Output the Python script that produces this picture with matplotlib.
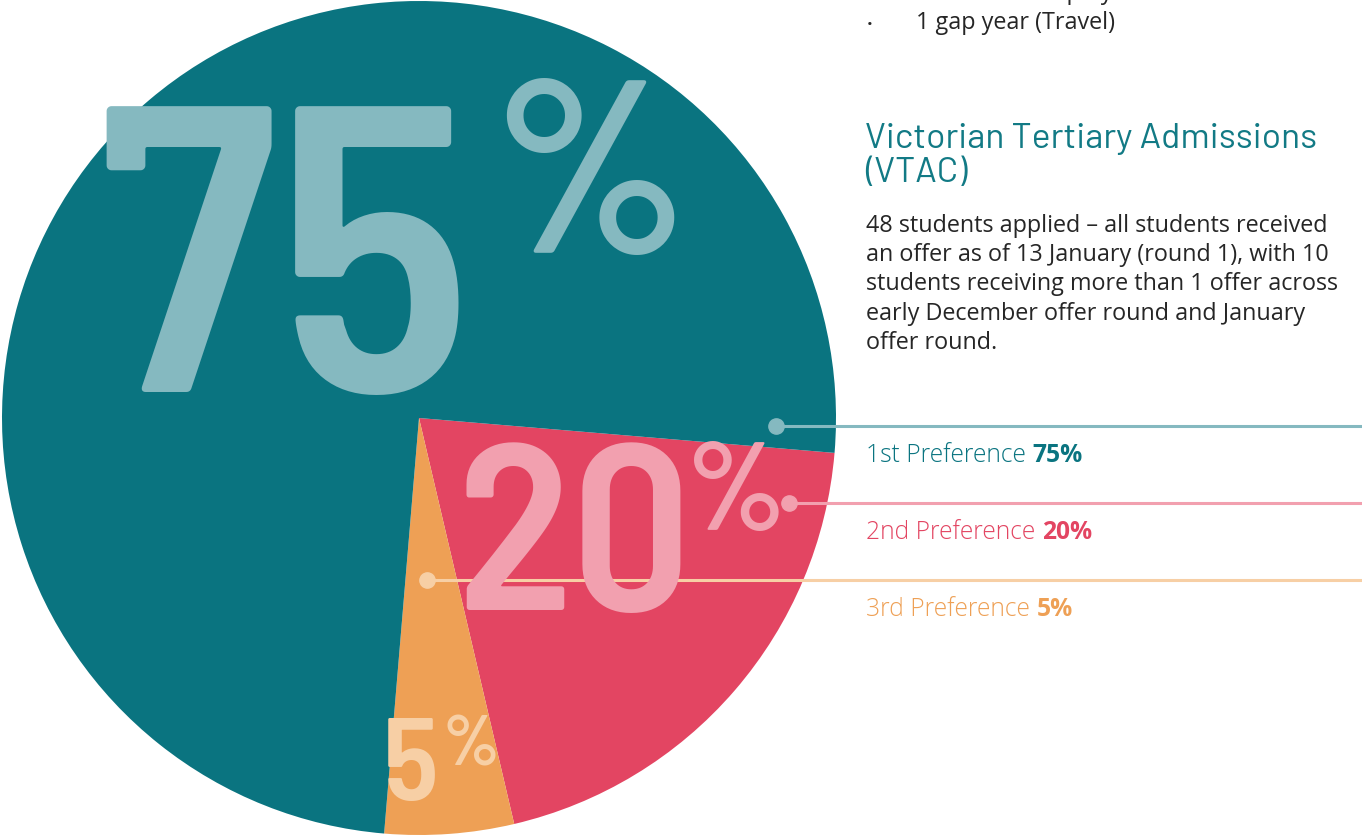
import matplotlib
matplotlib.use("Agg")
import matplotlib.pyplot as plt

# Données du graphique
categories = ["2nd Preference", "3rd Preference", "1st Preference"]
valeurs = [20, 5, 75]
couleurs = ["#e34562", "#eea055", "#0a7480"]
couleurs_claires = ["#f2a0af", "#f7cfa5", "#85b9c0"]

titre = ["Victorian Tertiary Admissions", "(VTAC)"]
paragraphe = ["48 students applied \u2013 all students received",
              "an offer as of 13 January (round 1), with 10",
              "students receiving more than 1 offer across",
              "early December offer round and January",
              "offer round."]
puces = ["1 full-time employment", "1 gap year (Travel)"]

W, H = 1362, 836
fig = plt.figure(figsize=(W / 100, H / 100), dpi=100)


def pos(x, y):
    # pixels (origine en haut a gauche) -> fraction de figure
    return x / W, 1 - y / H


# Camembert : centre (419, 418), rayon ~417 px
R = 417
ax = fig.add_axes([(419 - 418) / W, (H - 418 - 418) / H, 836 / W, 836 / H])
ax.pie(valeurs, colors=couleurs, startangle=-4.8, counterclock=False,
       radius=1, wedgeprops=dict(linewidth=0))
lim = 418 / R
ax.set_xlim(-lim, lim)
ax.set_ylim(-lim, lim)
ax.set_aspect("equal")
ax.axis("off")

gros = ["Barlow Semi Condensed", "Barlow", "DejaVu Sans"]
titre_police = ["Barlow", "DejaVu Sans"]
police = ["Open Sans", "DejaVu Sans"]

# Gros pourcentages dans les parts
fig.text(*pos(97, 392), "75", fontsize=294, color=couleurs_claires[2],
         family=gros, fontweight="semibold", ha="left", va="baseline")
fig.text(*pos(490, 253), "%", fontsize=178, color=couleurs_claires[2],
         family=gros, fontweight="semibold", ha="left", va="baseline")
fig.text(*pos(456, 610), "20", fontsize=170, color=couleurs_claires[0],
         family=gros, fontweight="semibold", ha="left", va="baseline")
fig.text(*pos(686, 530), "%", fontsize=90, color=couleurs_claires[0],
         family=gros, fontweight="semibold", ha="left", va="baseline")
fig.text(*pos(383, 800), "5", fontsize=84, color=couleurs_claires[1],
         family=gros, fontweight="semibold", ha="left", va="baseline")
fig.text(*pos(442, 765), "%", fontsize=51, color=couleurs_claires[1],
         family=gros, fontweight="semibold", ha="left", va="baseline")

# Lignes de rappel avec points
lignes = [(776, 426, couleurs_claires[2]),
          (789, 503, couleurs_claires[0]),
          (427, 580, couleurs_claires[1])]
for x, y, c in lignes:
    x0, y0 = pos(x, y)
    fig.add_artist(plt.Line2D([x0, 1.0], [y0, y0], color=c, lw=2.2,
                              transform=fig.transFigure))
    fig.add_artist(plt.Line2D([x0], [y0], marker="o", ms=11, color=c,
                              transform=fig.transFigure))

# Légende texte
renderer = fig.canvas.get_renderer()
legende = [("1st Preference ", "75%", couleurs[2], 462),
           ("2nd Preference ", "20%", couleurs[0], 539),
           ("3rd Preference ", "5%", couleurs[1], 616)]
for lab, pct, c, yb in legende:
    t = fig.text(*pos(866, yb), lab, fontsize=17.7, color=c, family=police,
                 fontweight="light", ha="left", va="baseline")
    bb = t.get_window_extent(renderer)
    fig.text(bb.x1 / W, 1 - yb / H, pct, fontsize=17.7, color=c,
             family=police, fontweight="bold", ha="left", va="baseline")

# Bloc de texte a droite
for i, ligne in enumerate(titre):
    fig.text(*pos(865, 148 + i * 34), ligne, fontsize=25.5, color="#127a85",
             family=titre_police, ha="left", va="baseline")
for i, ligne in enumerate(paragraphe):
    fig.text(*pos(866, 232 + i * 29.2), ligne, fontsize=16.8,
             color="#262626", family=police, ha="left", va="baseline")
for i, p in enumerate(puces):
    yb = -1 + i * 30
    fig.text(*pos(867, yb), "\u2022", fontsize=11, color="#262626",
             family=police, ha="left", va="baseline")
    fig.text(*pos(916, yb), p, fontsize=16.8, color="#262626", family=police,
             ha="left", va="baseline")

fig.savefig("out.png", dpi=100)
